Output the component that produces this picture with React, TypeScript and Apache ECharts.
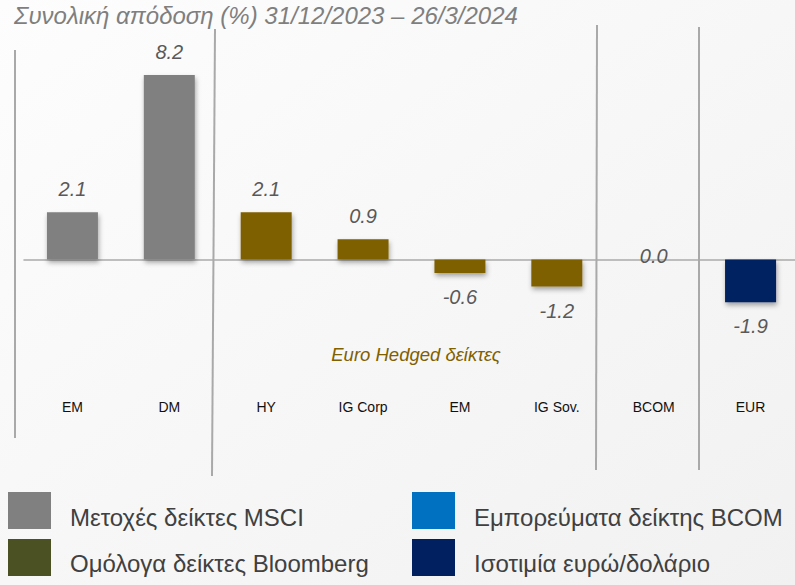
import React, { useEffect, useRef } from "react";
import * as echarts from "echarts";

const categories = ["EM", "DM", "HY", "IG Corp", "EM", "IG Sov.", "BCOM", "EUR"];
const values = [2.1, 8.2, 2.1, 0.9, -0.6, -1.2, 0.0, -1.9];
const groups = ["equity", "equity", "bond", "bond", "bond", "bond", "commodity", "fx"];
const barColors: Record<string, string> = {
  equity: "#808080",
  bond: "#7F6000",
  commodity: "#0070C0",
  fx: "#002060",
};
const legendNames = [
  "Μετοχές δείκτες MSCI",
  "Ομόλογα δείκτες Bloomberg",
  "Εμπορεύματα δείκτης BCOM",
  "Ισοτιμία ευρώ/δολάριο",
];
const legendColors = ["#808080", "#4B5123", "#0070C0", "#002060"];
const title = "Συνολική απόδοση (%) 31/12/2023 – 26/3/2024";
const subTitle = "Euro Hedged δείκτες";

const FONT = "'Liberation Sans', Arial, sans-serif";

function buildOption() {
  const sepColor = "#a9a9a9";
  const legendPos = [
    { x: 8, y: 492, tx: 70, ty: 517 },
    { x: 8, y: 539, tx: 70, ty: 563 },
    { x: 412, y: 492, tx: 474, ty: 517 },
    { x: 412, y: 539, tx: 474, ty: 563 },
  ];
  const legendGraphics: any[] = [];
  legendNames.forEach((name, i) => {
    const p = legendPos[i];
    legendGraphics.push({
      type: "rect",
      shape: { x: p.x, y: p.y, width: 43, height: 37 },
      style: { fill: legendColors[i] },
    });
    legendGraphics.push({
      type: "text",
      x: p.tx,
      y: p.ty,
      style: {
        text: name,
        fill: "#404040",
        font: `24px ${FONT}`,
        verticalAlign: "middle",
        align: "left",
      },
    });
  });

  return {
    animation: false,
    backgroundColor: {
      type: "linear",
      x: 0,
      y: 0,
      x2: 1,
      y2: 1,
      colorStops: [
        { offset: 0, color: "#fdfdfd" },
        { offset: 1, color: "#f1f1f1" },
      ],
    },
    grid: { left: 24, right: 1, top: 57, bottom: 280.5, containLabel: false },
    xAxis: {
      type: "category",
      data: categories,
      axisLine: { show: true, onZero: true, lineStyle: { color: "#aaaaaa", width: 1.5 } },
      axisTick: { show: false },
      axisLabel: {
        margin: 95,
        interval: 0,
        color: "#111111",
        fontSize: 14,
        fontFamily: FONT,
      },
      splitLine: { show: false },
    },
    yAxis: {
      type: "value",
      min: -2,
      max: 9,
      show: false,
      splitLine: { show: false },
    },
    series: [
      {
        type: "bar",
        barWidth: 51,
        data: values.map((v, i) => ({
          value: v,
          itemStyle: { color: barColors[groups[i]] },
          label:
            v > 0
              ? { position: "top", distance: 13 }
              : v < 0
              ? { position: "bottom", distance: 14 }
              : { position: "inside", offset: [0, -4] },
        })),
        itemStyle: {
          shadowColor: "rgba(0,0,0,0.35)",
          shadowBlur: 5,
          shadowOffsetX: 1,
          shadowOffsetY: 3,
        },
        label: {
          show: true,
          fontSize: 20,
          fontStyle: "italic",
          fontFamily: FONT,
          color: "#595959",
          formatter: (p: any) => Number(p.value).toFixed(1),
        },
      },
    ],
    graphic: [
      {
        type: "text",
        x: 14,
        y: 15,
        style: {
          text: title,
          fill: "#7f7f7f",
          font: `italic 24px ${FONT}`,
          verticalAlign: "middle",
          align: "left",
        },
      },
      { type: "line", shape: { x1: 15, y1: 50, x2: 15, y2: 438 }, style: { stroke: sepColor, lineWidth: 2 } },
      { type: "line", shape: { x1: 215, y1: 29, x2: 212, y2: 476 }, style: { stroke: sepColor, lineWidth: 2 } },
      { type: "line", shape: { x1: 597, y1: 25, x2: 596, y2: 470 }, style: { stroke: sepColor, lineWidth: 2 } },
      { type: "line", shape: { x1: 699, y1: 27, x2: 699, y2: 470 }, style: { stroke: sepColor, lineWidth: 2 } },
      {
        type: "text",
        x: 416,
        y: 354,
        style: {
          text: subTitle,
          fill: "#7F6000",
          font: `italic 18.5px ${FONT}`,
          verticalAlign: "middle",
          align: "center",
        },
      },
      ...legendGraphics,
    ],
  };
}

export default function App() {
  const ref = useRef<HTMLDivElement>(null);
  useEffect(() => {
    if (!ref.current) return;
    const chart = echarts.init(ref.current, null, { renderer: "svg" });
    chart.setOption(buildOption() as any);
    return () => chart.dispose();
  }, []);
  return (
    <div
      style={{
        position: "absolute",
        left: 0,
        top: 0,
        width: 795,
        height: 585,
        overflow: "hidden",
      }}
    >
      <div ref={ref} style={{ width: 800, height: 585 }} />
    </div>
  );
}
